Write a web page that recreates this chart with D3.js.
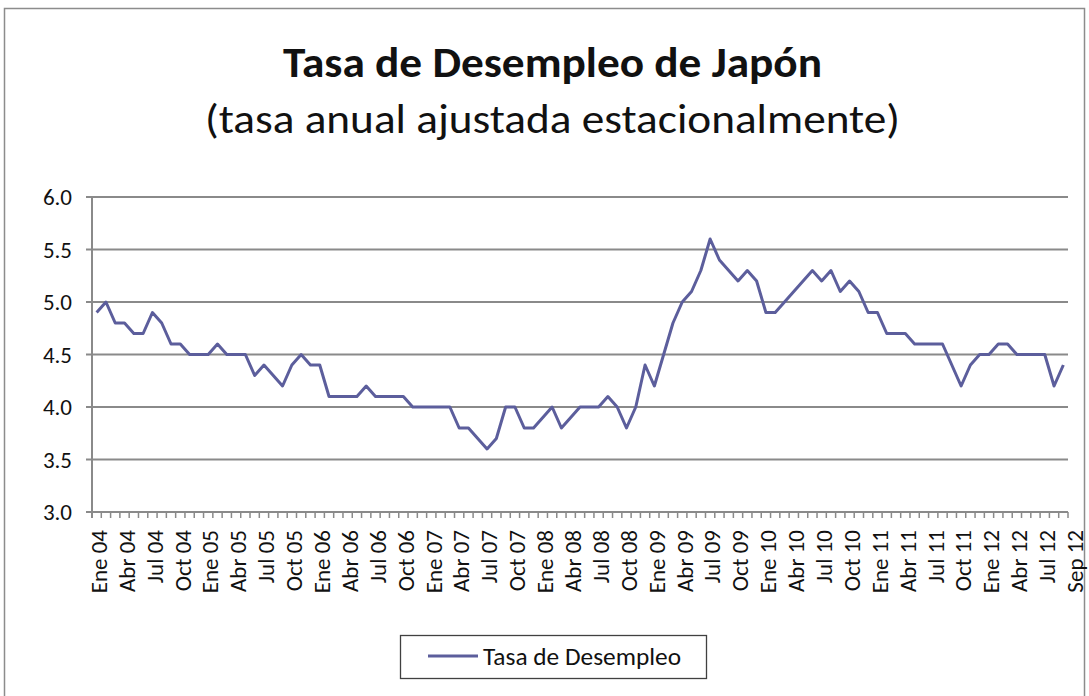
<!DOCTYPE html>
<html lang="es">
<head>
<meta charset="UTF-8">
<title>Tasa de Desempleo de Japón</title>
<script src="https://d3js.org/d3.v7.min.js"></script>
<style>
  body { margin: 0; background: #fff; }
  svg text { font-family: Carlito, Lato, "Open Sans", sans-serif; fill: #111; }
</style>
</head>
<body>
<script>
const monthNames = ['Ene', 'Feb', 'Mar', 'Abr', 'May', 'Jun', 'Jul', 'Ago', 'Sep', 'Oct', 'Nov', 'Dic'];
const years = ['04', '05', '06', '07', '08', '09', '10', '11', '12'];

// monthly rate, seasonally adjusted (%)
const rate04 = [4.9, 5.0, 4.8, 4.8, 4.7, 4.7, 4.9, 4.8, 4.6, 4.6, 4.5, 4.5];
const rate05 = [4.5, 4.6, 4.5, 4.5, 4.5, 4.3, 4.4, 4.3, 4.2, 4.4, 4.5, 4.4];
const rate06 = [4.4, 4.1, 4.1, 4.1, 4.1, 4.2, 4.1, 4.1, 4.1, 4.1, 4.0, 4.0];
const rate07 = [4.0, 4.0, 4.0, 3.8, 3.8, 3.7, 3.6, 3.7, 4.0, 4.0, 3.8, 3.8];
const rate08 = [3.9, 4.0, 3.8, 3.9, 4.0, 4.0, 4.0, 4.1, 4.0, 3.8, 4.0, 4.4];
const rate09 = [4.2, 4.5, 4.8, 5.0, 5.1, 5.3, 5.6, 5.4, 5.3, 5.2, 5.3, 5.2];
const rate10 = [4.9, 4.9, 5.0, 5.1, 5.2, 5.3, 5.2, 5.3, 5.1, 5.2, 5.1, 4.9];
const rate11 = [4.9, 4.7, 4.7, 4.7, 4.6, 4.6, 4.6, 4.6, 4.4, 4.2, 4.4, 4.5];
const rate12 = [4.5, 4.6, 4.6, 4.5, 4.5, 4.5, 4.5, 4.2, 4.4];

const yTicks = [3.0, 3.5, 4.0, 4.5, 5.0, 5.5, 6.0];
const seriesName = 'Tasa de Desempleo';

const width = 1089, height = 696;
const margin = { left: 92, right: 1068, top: 197, bottom: 512 };

// build the monthly table
const yearly = [rate04, rate05, rate06, rate07, rate08, rate09, rate10, rate11, rate12];
const data = [];
yearly.forEach((vals, yi) => {
  vals.forEach((v, mi) => data.push({ cat: monthNames[mi] + ' ' + years[yi], value: v }));
});
const categories = data.map(d => d.cat);

const svg = d3.select('body').append('svg')
  .attr('width', width).attr('height', height);

// outer chart frame
svg.append('rect')
  .attr('x', 4.5).attr('y', 8.5)
  .attr('width', 1080).attr('height', 720)
  .attr('fill', 'none').attr('stroke', '#8c8c8c').attr('stroke-width', 1.5);

// bits of the title above, cut off by the top edge as in the original
svg.append('text').attr('x', 345).attr('y', -8).style('font-size', '40px').text('(');
svg.append('text').attr('x', 756).attr('y', -8).style('font-size', '40px').text(')');

const x = d3.scaleBand().domain(categories).range([margin.left, margin.right]).padding(0);
const y = d3.scaleLinear().domain([3, 6]).range([margin.bottom, margin.top]);
const cx = c => x(c) + x.bandwidth() / 2;

// titles
svg.append('text')
  .attr('x', 552.5).attr('y', 77)
  .attr('text-anchor', 'middle')
  .attr('textLength', 539).attr('lengthAdjust', 'spacingAndGlyphs')
  .style('font-size', '43px').style('font-weight', 'bold')
  .text('Tasa de Desempleo de Japón');

svg.append('text')
  .attr('x', 552.5).attr('y', 133)
  .attr('text-anchor', 'middle')
  .attr('textLength', 695).attr('lengthAdjust', 'spacingAndGlyphs')
  .style('font-size', '41px')
  .text('(tasa anual ajustada estacionalmente)');

// gridlines
svg.append('g')
  .selectAll('line')
  .data(yTicks)
  .join('line')
    .attr('x1', margin.left - 6).attr('x2', margin.right)
    .attr('y1', d => y(d)).attr('y2', d => y(d))
    .attr('stroke', '#8a8a8a').attr('stroke-width', 2);

// y axis line
svg.append('line')
  .attr('x1', margin.left).attr('x2', margin.left)
  .attr('y1', y(6)).attr('y2', y(3) + 6)
  .attr('stroke', '#8a8a8a').attr('stroke-width', 2);

// y labels
svg.append('g')
  .selectAll('text')
  .data(yTicks)
  .join('text')
    .attr('x', 72).attr('y', d => y(d))
    .attr('dy', '0.36em')
    .attr('text-anchor', 'end')
    .style('font-size', '23px')
    .text(d => d.toFixed(1));

// x tick marks at category boundaries
const tickPos = categories.map(c => x(c)).concat([margin.right]);
svg.append('g')
  .selectAll('line')
  .data(tickPos)
  .join('line')
    .attr('x1', d => d).attr('x2', d => d)
    .attr('y1', margin.bottom).attr('y2', margin.bottom + 6)
    .attr('stroke', '#8a8a8a').attr('stroke-width', 1.5);

// x labels every 3 months, plus the last month placed past the end like the original
const xLabels = categories.filter((c, i) => i % 3 === 0)
  .map(c => ({ text: c, pos: cx(c) }));
const lastCat = categories[categories.length - 1];
xLabels.push({ text: lastCat, pos: cx(lastCat) + x.bandwidth() });

svg.append('g')
  .selectAll('text')
  .data(xLabels)
  .join('text')
    .attr('transform', d => `translate(${d.pos + 2},${margin.bottom + 18}) rotate(-90)`)
    .attr('dy', '0.36em')
    .attr('text-anchor', 'end')
    .style('font-size', '23px')
    .text(d => d.text);

// the series line
const line = d3.line()
  .x(d => cx(d.cat))
  .y(d => y(d.value));

svg.append('path')
  .datum(data)
  .attr('fill', 'none')
  .attr('stroke', '#5c5e9c')
  .attr('stroke-width', 3)
  .attr('stroke-linejoin', 'round')
  .attr('d', line);

// legend
const legend = svg.append('g');
legend.append('rect')
  .attr('x', 400.5).attr('y', 635.5)
  .attr('width', 306).attr('height', 43)
  .attr('fill', '#fff').attr('stroke', '#404040').attr('stroke-width', 1.3);
legend.append('line')
  .attr('x1', 428).attr('x2', 478)
  .attr('y1', 656).attr('y2', 656)
  .attr('stroke', '#5c5e9c').attr('stroke-width', 3);
legend.append('text')
  .attr('x', 483).attr('y', 665)
  .attr('textLength', 198).attr('lengthAdjust', 'spacingAndGlyphs')
  .style('font-size', '25px')
  .text(seriesName);
</script>
</body>
</html>
